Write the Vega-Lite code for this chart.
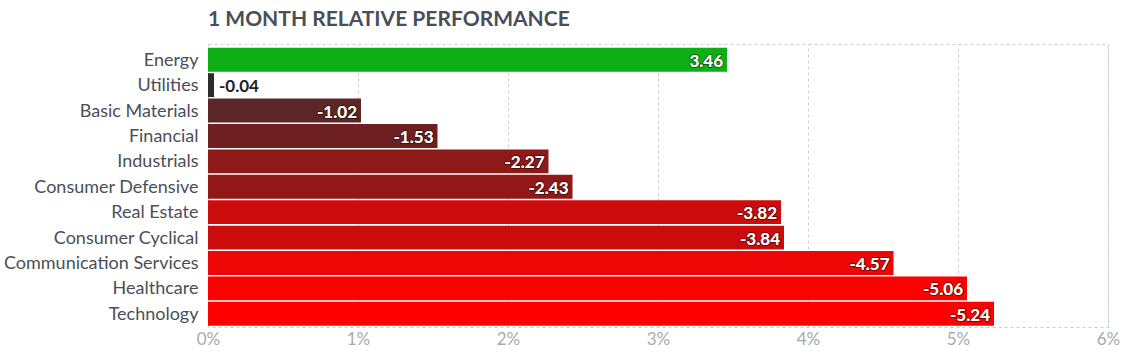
{
  "$schema": "https://vega.github.io/schema/vega-lite/v6.json",
  "width": 900,
  "height": 283,
  "autosize": {"type": "none"},
  "padding": {"left": 208, "top": 44, "right": 18, "bottom": 27},
  "background": "white",
  "config": {
    "font": "Lato",
    "view": {"stroke": "#cccccc", "strokeDash": [3, 3], "strokeWidth": 1}
  },
  "title": {
    "text": "1 MONTH RELATIVE PERFORMANCE",
    "anchor": "start",
    "frame": "group",
    "font": "Lato",
    "fontSize": 21,
    "fontWeight": "bold",
    "color": "#4a4f57",
    "offset": 14
  },
  "data": {
    "values": [
      {"sector": "Energy", "value": 3.46},
      {"sector": "Utilities", "value": -0.04},
      {"sector": "Basic Materials", "value": -1.02},
      {"sector": "Financial", "value": -1.53},
      {"sector": "Industrials", "value": -2.27},
      {"sector": "Consumer Defensive", "value": -2.43},
      {"sector": "Real Estate", "value": -3.82},
      {"sector": "Consumer Cyclical", "value": -3.84},
      {"sector": "Communication Services", "value": -4.57},
      {"sector": "Healthcare", "value": -5.06},
      {"sector": "Technology", "value": -5.24}
    ]
  },
  "transform": [
    {"calculate": "abs(datum.value)", "as": "magnitude"},
    {"calculate": "replace(format(datum.value, '.2f'), '\u2212', '-')", "as": "label"}
  ],
  "encoding": {
    "y": {
      "field": "sector",
      "type": "nominal",
      "sort": null,
      "scale": {"paddingInner": 0.06, "paddingOuter": 0.1, "align": 0.75},
      "axis": {
        "title": null,
        "ticks": false,
        "domain": false,
        "labelFont": "Lato",
        "labelFontSize": 18,
        "labelColor": "#4a4f57",
        "labelPadding": 10,
        "labelOffset": 1,
        "labelLimit": 300
      }
    },
    "x": {
      "field": "magnitude",
      "type": "quantitative",
      "scale": {"domain": [0, 6], "nice": false},
      "axis": {
        "title": null,
        "values": [0, 1, 2, 3, 4, 5, 6],
        "labelExpr": "datum.value + '%'",
        "ticks": false,
        "domain": false,
        "grid": true,
        "gridColor": "#cccccc",
        "gridDash": [3, 3],
        "labelFont": "Lato",
        "labelFontSize": 17,
        "labelColor": "#aaaaaa",
        "labelPadding": 4,
        "labelFlush": false
      }
    }
  },
  "layer": [
    {
      "mark": {"type": "bar"},
      "encoding": {
        "color": {
          "field": "sector",
          "type": "nominal",
          "legend": null,
          "scale": {
            "domain": ["Energy", "Utilities", "Basic Materials", "Financial", "Industrials", "Consumer Defensive", "Real Estate", "Consumer Cyclical", "Communication Services", "Healthcare", "Technology"],
            "range": ["#0caf14", "#2e2a2a", "#5a2626", "#6e1f22", "#8e1919", "#921818", "#cc0c0c", "#cc0c0c", "#ee0505", "#ff0000", "#ff0000"]
          }
        }
      }
    },
    {
      "transform": [{"filter": "datum.magnitude >= 0.3"}],
      "mark": {"type": "text", "align": "right", "baseline": "middle", "dx": -4, "dy": 2, "font": "Lato", "fontSize": 17, "fontWeight": "bold", "fill": "#ffffff", "stroke": "#000000", "strokeWidth": 2, "strokeOpacity": 0.45, "strokeJoin": "round"},
      "encoding": {"text": {"field": "label", "type": "nominal"}}
    },
    {
      "transform": [{"filter": "datum.magnitude >= 0.3"}],
      "mark": {"type": "text", "align": "right", "baseline": "middle", "dx": -4, "dy": 2, "font": "Lato", "fontSize": 17, "fontWeight": "bold", "fill": "#ffffff"},
      "encoding": {"text": {"field": "label", "type": "nominal"}}
    },
    {
      "transform": [{"filter": "datum.magnitude < 0.3"}],
      "mark": {"type": "text", "align": "left", "baseline": "middle", "dx": 5, "dy": 2, "font": "Lato", "fontSize": 17, "fontWeight": "bold", "fill": "#222222"},
      "encoding": {"text": {"field": "label", "type": "nominal"}}
    }
  ]
}
